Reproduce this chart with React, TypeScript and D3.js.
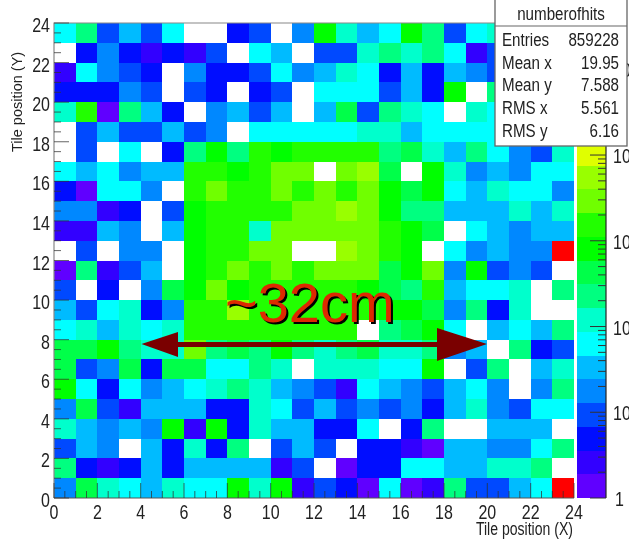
import React from "react";
import * as d3 from "d3";

// Palette bins, bottom to top of the colour bar (index 1..20). Index 0 = empty bin.
const palette = ["#6000ff","#3300ff","#0010ff","#0048ff","#0088ff","#00bbff","#00ffff","#00ffcc","#00ff80","#00ff48","#00ff00","#22ff00","#70ff00","#99ff00","#e0ff00","#ffe000","#ffb000","#ff8000","#ff4000","#ff0000"];

// Contour level of each bin; first row is Y bin 23 (top), last is Y bin 0. Columns X bin 0..23.
const levels: number[][] = [
  [7,9,4,6,4,7,0,0,3,4,0,5,11,8,6,7,11,9,4,7,8,0,0,0],
  [0,3,5,3,2,3,2,4,0,7,6,0,4,4,8,9,8,9,7,2,4,0,0,0],
  [2,7,5,4,3,0,5,3,3,4,7,5,6,8,7,3,6,3,6,5,4,0,0,0],
  [3,3,3,5,4,0,4,3,0,3,4,0,7,7,7,4,6,3,11,0,9,0,0,0],
  [8,12,1,9,6,3,0,5,6,4,6,0,6,10,4,9,8,7,0,8,7,0,0,0],
  [0,4,6,4,4,6,4,5,0,7,7,7,7,7,8,8,6,7,7,7,7,0,0,0],
  [0,4,0,7,0,3,9,11,9,12,11,12,12,12,12,9,10,8,6,9,7,5,4,8],
  [7,6,7,5,6,6,12,12,11,12,13,13,0,13,14,10,0,11,8,5,6,5,7,7],
  [3,1,7,7,5,0,12,13,12,12,13,12,13,12,13,11,10,11,7,6,8,7,7,5],
  [5,5,2,3,0,4,11,12,12,12,12,13,13,14,13,11,9,9,6,6,6,8,6,8],
  [2,2,6,5,0,6,11,12,12,8,13,13,13,13,13,12,11,10,0,7,6,5,6,6],
  [0,4,0,5,5,0,11,12,12,13,13,0,0,14,13,12,11,0,7,5,6,5,5,20],
  [1,9,2,4,6,0,11,12,13,12,13,12,13,13,13,10,11,13,5,11,4,5,4,0],
  [4,0,3,0,5,10,11,13,11,12,12,12,12,12,11,10,9,12,6,7,7,8,0,9],
  [6,4,7,8,3,5,12,12,14,12,12,12,12,12,12,11,11,10,5,9,3,8,0,0],
  [7,8,6,8,7,8,12,12,12,12,12,12,12,12,0,9,10,11,7,0,6,7,6,9],
  [10,10,11,9,8,8,13,9,10,9,11,9,8,9,10,8,8,9,5,6,0,9,3,4],
  [10,4,5,10,3,10,10,7,7,9,8,0,8,8,8,7,7,11,0,4,9,0,6,8],
  [11,7,3,7,5,6,7,8,9,8,6,5,4,2,7,6,5,4,6,7,5,0,5,9],
  [5,10,4,2,6,6,6,3,3,8,7,4,6,4,5,4,5,3,6,8,5,4,7,7],
  [8,6,5,6,5,11,2,11,3,8,6,6,3,3,7,0,3,9,0,0,6,6,6,0],
  [4,6,5,0,6,3,8,3,9,0,4,6,4,0,3,3,2,1,6,6,5,5,7,9],
  [9,3,2,3,6,3,6,6,6,6,2,4,0,1,3,3,7,7,6,6,8,8,9,0],
  [5,10,8,7,6,8,7,7,11,8,11,2,4,3,1,7,1,2,9,4,4,6,7,20],
];

const axisTicks = d3.range(0, 24.5, 2);
const minorTicks = d3.range(0, 24.25, 0.5);
const barDecades = [0, 1, 2, 3, 4, 5];
const barMax = 5.54;
const statRows: [string, string][] = [
  ["Entries", "859228"],
  ["Mean x", "19.95"],
  ["Mean y", "7.588"],
  ["RMS x", "5.561"],
  ["RMS y", "6.16"],
];
const statTitle = "numberofhits";
const xTitle = "Tile position (X)";
const yTitle = "Tile position (Y)";
const spanLabel = "~32cm";

const W = 629, H = 543;
const x = d3.scaleLinear().domain([0, 24]).range([54, 574]);
const y = d3.scaleLinear().domain([0, 24]).range([498, 23]);
const barBin = d3.scaleLinear().domain([0, 20]).range([498, 23]);
const barLog = d3.scaleLog().domain([1, Math.pow(10, barMax)]).range([498, 23]);
const BAR_L = 577, BAR_R = 606;
const sans = "'Liberation Sans',Arial,sans-serif";
const INK = "#222";

// Condensed text: the reference's lettering is squeezed horizontally.
function Squeezed({ x: tx, y: ty, size, k = 0.8, anchor = "start", children }:
  { x: number; y: number; size: number; k?: number; anchor?: string; children: React.ReactNode }) {
  return (
    <text transform={`translate(${tx},${ty}) scale(${k},1)`} textAnchor={anchor}
      fontFamily={sans} fontSize={size} fill={INK}>{children}</text>
  );
}

export default function App() {
  const minorLog: number[] = [];
  barDecades.forEach((d) => {
    d3.range(2, 10).forEach((m) => {
      const v = m * Math.pow(10, d);
      if (v < Math.pow(10, barMax)) minorLog.push(v);
    });
  });
  return (
    <svg width={W} height={H} viewBox={`0 0 ${W} ${H}`}
      style={{ position: "fixed", left: 0, top: 0, background: "#fff" }}>
      <defs>
        <filter id="soft" x="0" y="0" width={W} height={H} filterUnits="userSpaceOnUse">
          <feGaussianBlur stdDeviation="0.45" />
        </filter>
      </defs>
      <g filter="url(#soft)">
        <rect width={W} height={H} fill="#fff" />
        {levels.map((row, r) =>
          row.map((lv, c) => {
            const yb = 23 - r;
            return lv === 0 ? null : (
              <rect key={`${r}-${c}`} x={x(c)} y={y(yb + 1)}
                width={x(c + 1) - x(c)} height={y(yb) - y(yb + 1)}
                fill={palette[lv - 1]} shapeRendering="crispEdges" />
            );
          })
        )}
        {palette.map((col, i) => (
          <rect key={i} x={BAR_L} width={BAR_R - BAR_L} y={barBin(i + 1)}
            height={barBin(i) - barBin(i + 1)} fill={col} shapeRendering="crispEdges" />
        ))}

        {/* frame */}
        <path d={`M${x(0)},${y(0)}V${y(24)}H${x(24)}`} fill="none" stroke="#888" strokeWidth={1.2} />
        <path d={`M${x(0)},${y(0)}H${x(24)}`} fill="none" stroke="#555" strokeWidth={1} />
        <line x1={BAR_R} x2={BAR_R} y1={498} y2={23} stroke="#222" strokeWidth={1.2} />

        {/* ticks */}
        {minorTicks.map((t) => {
          const major = t % 2 === 0;
          const len = major ? 15 : 7;
          return (
            <g key={t} stroke="#333" strokeOpacity={0.75} strokeWidth={1}>
              <line x1={x(t)} x2={x(t)} y1={y(0)} y2={y(0) - len} />
              <line x1={x(0)} x2={x(0) + len} y1={y(t)} y2={y(t)} />
            </g>
          );
        })}
        {barDecades.map((d) => (
          <line key={d} x1={BAR_R} x2={BAR_R - 16} y1={barLog(Math.pow(10, d))} y2={barLog(Math.pow(10, d))} stroke="#333" />
        ))}
        {minorLog.map((v) => (
          <line key={v} x1={BAR_R} x2={BAR_R - 8} y1={barLog(v)} y2={barLog(v)} stroke="#333" />
        ))}

        {/* tick labels */}
        {axisTicks.map((t) => (
          <g key={t}>
            <Squeezed x={x(t)} y={519} size={20} anchor="middle">{t}</Squeezed>
            <Squeezed x={50} y={y(t) + 9} size={20} anchor="end">{t}</Squeezed>
          </g>
        ))}
        {barDecades.map((d) => {
          const yy = barLog(Math.pow(10, d));
          return d === 0 ? (
            <Squeezed key={d} x={615} y={yy + 8} size={20}>1</Squeezed>
          ) : (
            <Squeezed key={d} x={613} y={yy + 8} size={20}>
              10<tspan dy={-8} fontSize={13}>{d}</tspan>
            </Squeezed>
          );
        })}

        <Squeezed x={573} y={535} size={19} k={0.74} anchor="end">{xTitle}</Squeezed>
        <text transform="translate(22,152) rotate(-90)" fontFamily={sans} fontSize={14.5} fill={INK}>{yTitle}</text>

        {/* annotation */}
        <path d="M141.5,344L178,332V342H437V328L487,344L437,361V347H178V357Z" fill="#7a0000" />
        <text x={227} y={324} fontFamily={sans} fontSize={56} fill="#000">{spanLabel}</text>
        <text x={225} y={322} fontFamily={sans} fontSize={56} fill="#dd2a00">{spanLabel}</text>

        {/* stats box */}
        <rect x={495} y={-2} width={132} height={148} fill="#fff" stroke="#666" strokeWidth={1.3} />
        <line x1={495} x2={627} y1={26} y2={26} stroke="#666" strokeWidth={1.2} />
        <Squeezed x={561} y={20} size={18.5} k={0.82} anchor="middle">{statTitle}</Squeezed>
        {statRows.map(([k, v], i) => (
          <g key={k}>
            <Squeezed x={502} y={46 + i * 22.7} size={18.5} k={0.82}>{k}</Squeezed>
            <Squeezed x={619} y={46 + i * 22.7} size={18.5} k={0.82} anchor="end">{v}</Squeezed>
          </g>
        ))}
      </g>
    </svg>
  );
}
